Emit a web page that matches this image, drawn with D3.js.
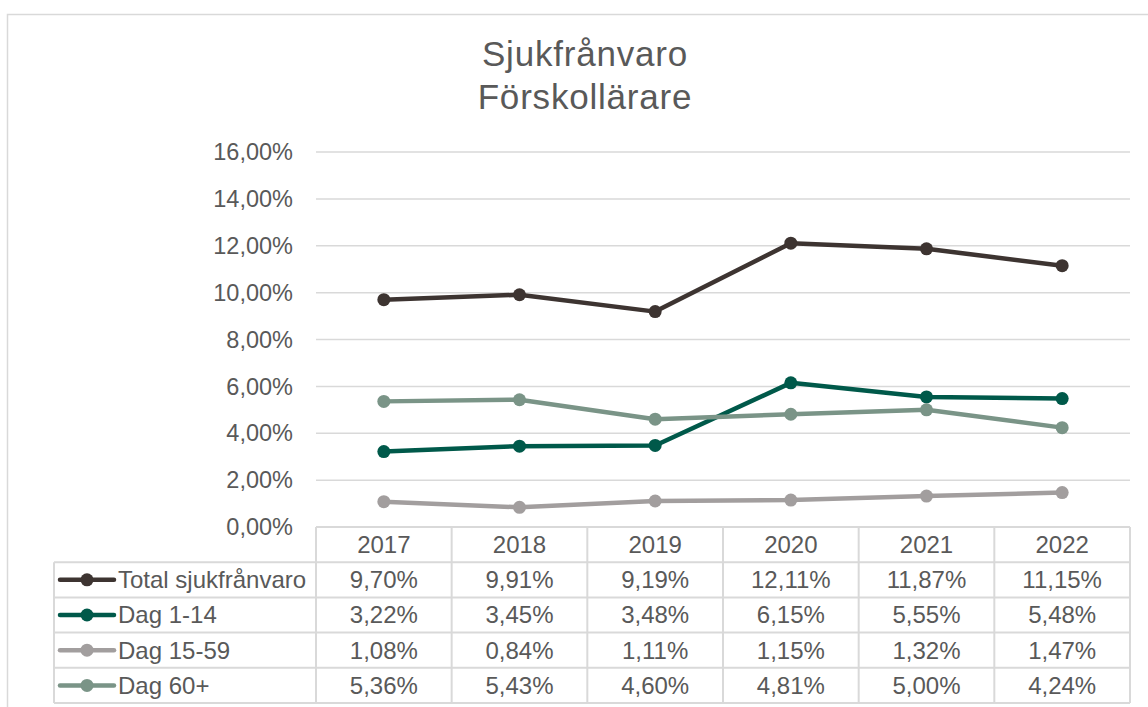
<!DOCTYPE html>
<html>
<head>
<meta charset="utf-8">
<script src="https://cdn.jsdelivr.net/npm/d3@7"></script>
<style>
  body { margin: 0; background: #fff; }
  text { font-family: "Liberation Sans", Arial, sans-serif; fill: #595959; }
</style>
</head>
<body>
<script>
let width = 1148,
    height = 707;

// data
let years = ["2017", "2018", "2019", "2020", "2021", "2022"];
let seriesNames = ["Total sjukfrånvaro", "Dag 1-14", "Dag 15-59", "Dag 60+"];
let total = [9.70, 9.91, 9.19, 12.11, 11.87, 11.15];
let dag1_14 = [3.22, 3.45, 3.48, 6.15, 5.55, 5.48];
let dag15_59 = [1.08, 0.84, 1.11, 1.15, 1.32, 1.47];
let dag60 = [5.36, 5.43, 4.60, 4.81, 5.00, 4.24];
let yTicks = [0, 2, 4, 6, 8, 10, 12, 14, 16];
let colors = ["#3d3431", "#00594a", "#a29e9e", "#7a9487"];

let seriesValues = [total, dag1_14, dag15_59, dag60];
let fmt = v => v.toFixed(2).replace(".", ",") + "%";

let svg = d3.select("body").append("svg")
    .attr("width", width).attr("height", height);

// chart frame
svg.append("rect")
    .attr("x", 7.5).attr("y", 14.5)
    .attr("width", 1200).attr("height", 800)
    .attr("fill", "#fff").attr("stroke", "#d9d9d9").attr("stroke-width", 1.5);

// title
let title = svg.append("text")
    .attr("text-anchor", "middle")
    .style("font-size", "35px")
    .style("letter-spacing", "0.8px");
title.append("tspan").attr("x", 585).attr("y", 66).text("Sjukfrånvaro");
title.append("tspan").attr("x", 585).attr("y", 109).text("Förskollärare");

let plotLeft = 316, plotRight = 1130, plotTop = 152, plotBottom = 527;

let x = d3.scaleBand().domain(years).range([plotLeft, plotRight]);
let y = d3.scaleLinear().domain([0, 16]).range([plotBottom, plotTop]);

// gridlines
svg.append("g").selectAll("line")
    .data(yTicks.filter(d => d > 0))
    .enter().append("line")
    .attr("x1", plotLeft).attr("x2", plotRight)
    .attr("y1", d => y(d)).attr("y2", d => y(d))
    .attr("stroke", "#d9d9d9").attr("stroke-width", 1.5);

// y axis labels
svg.append("g").selectAll("text")
    .data(yTicks)
    .enter().append("text")
    .attr("x", 293)
    .attr("y", d => y(d))
    .attr("dy", "0.35em")
    .attr("text-anchor", "end")
    .style("font-size", "23.5px")
    .text(d => fmt(d));

// lines
let line = d3.line()
    .x((d, i) => x(years[i]) + x.bandwidth() / 2)
    .y(d => y(d));

seriesValues.forEach(function (vals, s) {
    let g = svg.append("g");
    g.append("path")
        .attr("d", line(vals))
        .attr("fill", "none")
        .attr("stroke", colors[s])
        .attr("stroke-width", 4.5)
        .attr("stroke-linejoin", "round");
    g.selectAll("circle")
        .data(vals)
        .enter().append("circle")
        .attr("cx", (d, i) => x(years[i]) + x.bandwidth() / 2)
        .attr("cy", d => y(d))
        .attr("r", 6.5)
        .attr("fill", colors[s]);
});

// data table
let rowH = 35.2;
let tableLeft = 54;
let table = svg.append("g");
let gridColor = "#d9d9d9";

// header row top border
table.append("line")
    .attr("x1", plotLeft).attr("x2", plotRight)
    .attr("y1", plotBottom).attr("y2", plotBottom)
    .attr("stroke", gridColor).attr("stroke-width", 2);
// horizontal lines for series rows
d3.range(seriesNames.length + 1).forEach(function (r) {
    let yy = plotBottom + rowH * (r + 1);
    table.append("line")
        .attr("x1", tableLeft).attr("x2", plotRight)
        .attr("y1", yy).attr("y2", yy)
        .attr("stroke", gridColor).attr("stroke-width", 2);
});
// vertical lines
years.forEach(function (yr) {
    table.append("line")
        .attr("x1", x(yr)).attr("x2", x(yr))
        .attr("y1", plotBottom).attr("y2", plotBottom + rowH * 5)
        .attr("stroke", gridColor).attr("stroke-width", 2);
});
table.append("line")
    .attr("x1", plotRight).attr("x2", plotRight)
    .attr("y1", plotBottom).attr("y2", plotBottom + rowH * 5)
    .attr("stroke", gridColor).attr("stroke-width", 2);
table.append("line")
    .attr("x1", tableLeft).attr("x2", tableLeft)
    .attr("y1", plotBottom + rowH).attr("y2", plotBottom + rowH * 5)
    .attr("stroke", gridColor).attr("stroke-width", 2);

// header labels
table.selectAll(".yr")
    .data(years)
    .enter().append("text")
    .attr("class", "yr")
    .attr("x", d => x(d) + x.bandwidth() / 2)
    .attr("y", plotBottom + rowH / 2)
    .attr("dy", "0.35em")
    .attr("text-anchor", "middle")
    .style("font-size", "24px")
    .text(d => d);

// series rows
seriesNames.forEach(function (name, s) {
    let cy = plotBottom + rowH * (s + 1) + rowH / 2;
    table.append("line")
        .attr("x1", 60).attr("x2", 114)
        .attr("y1", cy).attr("y2", cy)
        .attr("stroke", colors[s]).attr("stroke-width", 4.5)
        .attr("stroke-linecap", "round");
    table.append("circle")
        .attr("cx", 87).attr("cy", cy).attr("r", 6.5)
        .attr("fill", colors[s]);
    table.append("text")
        .attr("x", 118).attr("y", cy).attr("dy", "0.35em")
        .style("font-size", "24px")
        .text(name);
    table.append("g").selectAll("text")
        .data(seriesValues[s])
        .enter().append("text")
        .attr("x", (d, i) => x(years[i]) + x.bandwidth() / 2)
        .attr("y", cy).attr("dy", "0.35em")
        .attr("text-anchor", "middle")
        .style("font-size", "24px")
        .text(d => fmt(d));
});
</script>
</body>
</html>
